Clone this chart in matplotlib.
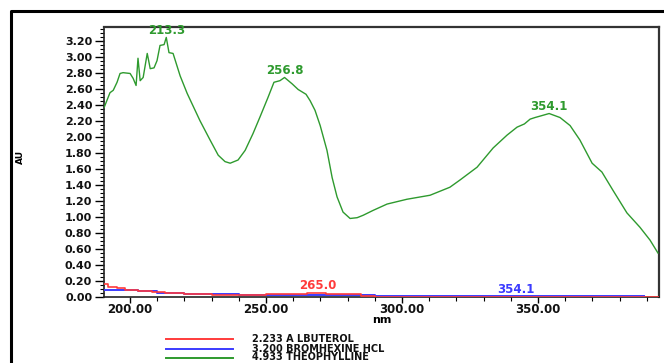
import matplotlib
matplotlib.use("Agg")
import matplotlib.pyplot as plt
from matplotlib.lines import Line2D
from matplotlib.ticker import MultipleLocator, FormatStrFormatter

# Theophylline spectrum (nm, AU)
theo_nm = [190.5, 192.6, 193.8, 195.2, 196.3, 197.4, 200.0, 201.1, 202.2, 202.9,
           203.7, 204.8, 206.3, 207.4, 208.8, 209.9, 211.0, 212.5, 213.3, 214.3,
           215.8, 218.4, 221.0, 225.7, 229.4, 232.4, 234.9, 236.8, 239.7, 242.3,
           245.2, 247.8, 250.7, 252.9, 255.1, 256.8, 259.6, 261.8, 264.7, 266.2,
           268.0, 269.9, 272.4, 274.3, 276.1, 278.3, 280.9, 283.5, 285.7, 289.3,
           294.5, 301.8, 310.3, 317.6, 321.3, 327.6, 333.5, 338.6, 342.3, 345.0,
           347.1, 348.9, 351.0, 354.1, 358.1, 361.8, 365.4, 369.9, 373.5, 377.6,
           382.7, 387.5, 391.2, 394.1]
theo_au = [2.37, 2.55, 2.58, 2.68, 2.79, 2.80, 2.79, 2.73, 2.64, 2.98,
           2.70, 2.74, 3.04, 2.85, 2.86, 2.95, 3.14, 3.15, 3.24, 3.05,
           3.04, 2.76, 2.54, 2.20, 1.96, 1.77, 1.69, 1.67, 1.71, 1.83,
           2.04, 2.25, 2.49, 2.68, 2.70, 2.74, 2.66, 2.59, 2.53, 2.45,
           2.33, 2.14, 1.83, 1.49, 1.25, 1.06, 0.98, 0.99, 1.02, 1.08,
           1.16, 1.22, 1.27, 1.37, 1.46, 1.62, 1.86, 2.02, 2.12, 2.16,
           2.22, 2.24, 2.26, 2.29, 2.24, 2.14, 1.96, 1.67, 1.56, 1.33,
           1.05, 0.87, 0.71, 0.55]

# Albuterol spectrum
albu_nm = [190.5, 192.0, 195.0, 198.0, 203.0, 208.0, 213.0, 220.0, 230.0, 240.0,
           250.0, 258.0, 265.0, 272.0, 280.0, 285.0, 290.0, 300.0, 350.0, 394.5]
albu_au = [0.16, 0.13, 0.11, 0.09, 0.07, 0.06, 0.05, 0.035, 0.025, 0.03,
           0.035, 0.04, 0.045, 0.04, 0.035, 0.01, 0.005, 0.005, 0.005, 0.005]

# Bromhexine HCl spectrum
brom_nm = [190.5, 198.0, 203.0, 210.0, 220.0, 230.0, 240.0, 250.0, 260.0, 270.0,
           280.0, 290.0, 300.0, 320.0, 340.0, 354.1, 370.0, 389.0]
brom_au = [0.09, 0.09, 0.07, 0.05, 0.04, 0.035, 0.03, 0.025, 0.03, 0.025,
           0.02, 0.01, 0.01, 0.01, 0.015, 0.015, 0.015, 0.015]

# Peak annotations
theo_peaks = [213.3, 256.8, 354.1]
theo_peak_y = [3.33, 2.83, 2.38]
albu_peak = 265.0
brom_peak = 354.1

legend_labels = ["2.233 A LBUTEROL", "3.200 BROMHEXINE HCL", "4.933 THEOPHYLLINE"]

c_red = "#ff3b3b"
c_blue = "#3b3bff"
c_green = "#2e9a2e"

W, H = 664, 363
fig = plt.figure(figsize=(W / 100, H / 100), dpi=100)
fig.patch.set_facecolor("white")

ax = fig.add_axes([104 / W, 1 - 297 / H, 555 / W, 270 / H])
ax.plot(theo_nm, theo_au, color=c_green, lw=1.0, zorder=3)
ax.plot(brom_nm, brom_au, color=c_blue, lw=1.4, zorder=3, drawstyle="steps-post")
ax.plot(albu_nm, albu_au, color=c_red, lw=1.2, zorder=4, drawstyle="steps-post")

ax.set_xlim(190.4, 394.5)
ax.set_ylim(0, 3.37)

ax.xaxis.set_major_locator(MultipleLocator(50))
ax.xaxis.set_minor_locator(MultipleLocator(10))
ax.yaxis.set_major_locator(MultipleLocator(0.2))
ax.yaxis.set_minor_locator(MultipleLocator(0.05))
ax.xaxis.set_major_formatter(FormatStrFormatter("%.2f"))
ax.yaxis.set_major_formatter(FormatStrFormatter("%.2f"))

ax.tick_params(axis="y", which="major", length=6.5, width=1, pad=2, labelsize=8)
ax.tick_params(axis="y", which="minor", length=3.2, width=0.8)
ax.tick_params(axis="x", which="major", length=4, width=1, pad=0.5, labelsize=8.5)
ax.tick_params(axis="x", which="minor", length=3, width=0.8)
for lab in ax.get_xticklabels() + ax.get_yticklabels():
    lab.set_fontweight("bold")
    lab.set_color("#111111")

for side in ["left", "bottom"]:
    ax.spines[side].set_color("#222222")
    ax.spines[side].set_linewidth(1.2)
for side in ["top", "right"]:
    ax.spines[side].set_color("#333333")
    ax.spines[side].set_linewidth(1.6)

ax.set_xlabel("nm", fontsize=8, fontweight="bold", labelpad=-1)

# Peak labels
for nm, y in zip(theo_peaks, theo_peak_y):
    ax.text(nm, y, f"{nm:.1f}", color=c_green, fontsize=8.5, fontweight="bold",
            ha="center", va="center", zorder=5, clip_on=False)
ax.text(albu_peak + 3.9, 0.14, f"{albu_peak:.1f}", color=c_red, fontsize=8.5,
        fontweight="bold", ha="center", va="center", zorder=5)
ax.text(brom_peak - 12.2, 0.09, f"{brom_peak:.1f}", color=c_blue, fontsize=8.5,
        fontweight="bold", ha="center", va="center", zorder=5)

# Axis unit label
fig.text(20 / W, 1 - 157 / H, "AU", rotation=90, fontsize=6.5, fontweight="bold",
         ha="center", va="center")

# Outer frame
fig.add_artist(Line2D([11 / W, 11 / W, 1.0], [0.0, 1 - 11 / H, 1 - 11 / H],
                      transform=fig.transFigure, color="black", lw=2.2))

# Legend rows
for label, col, yp in zip(legend_labels, [c_red, c_blue, c_green], [339, 348.5, 357.5]):
    yf = 1 - yp / H
    fig.add_artist(Line2D([166 / W, 233 / W], [yf, yf], transform=fig.transFigure,
                          color=col, lw=1.4))
    fig.text(252 / W, yf, label, fontsize=7, fontweight="bold", ha="left",
             va="center", color="#111111")

fig.savefig("out.png", dpi=100)
